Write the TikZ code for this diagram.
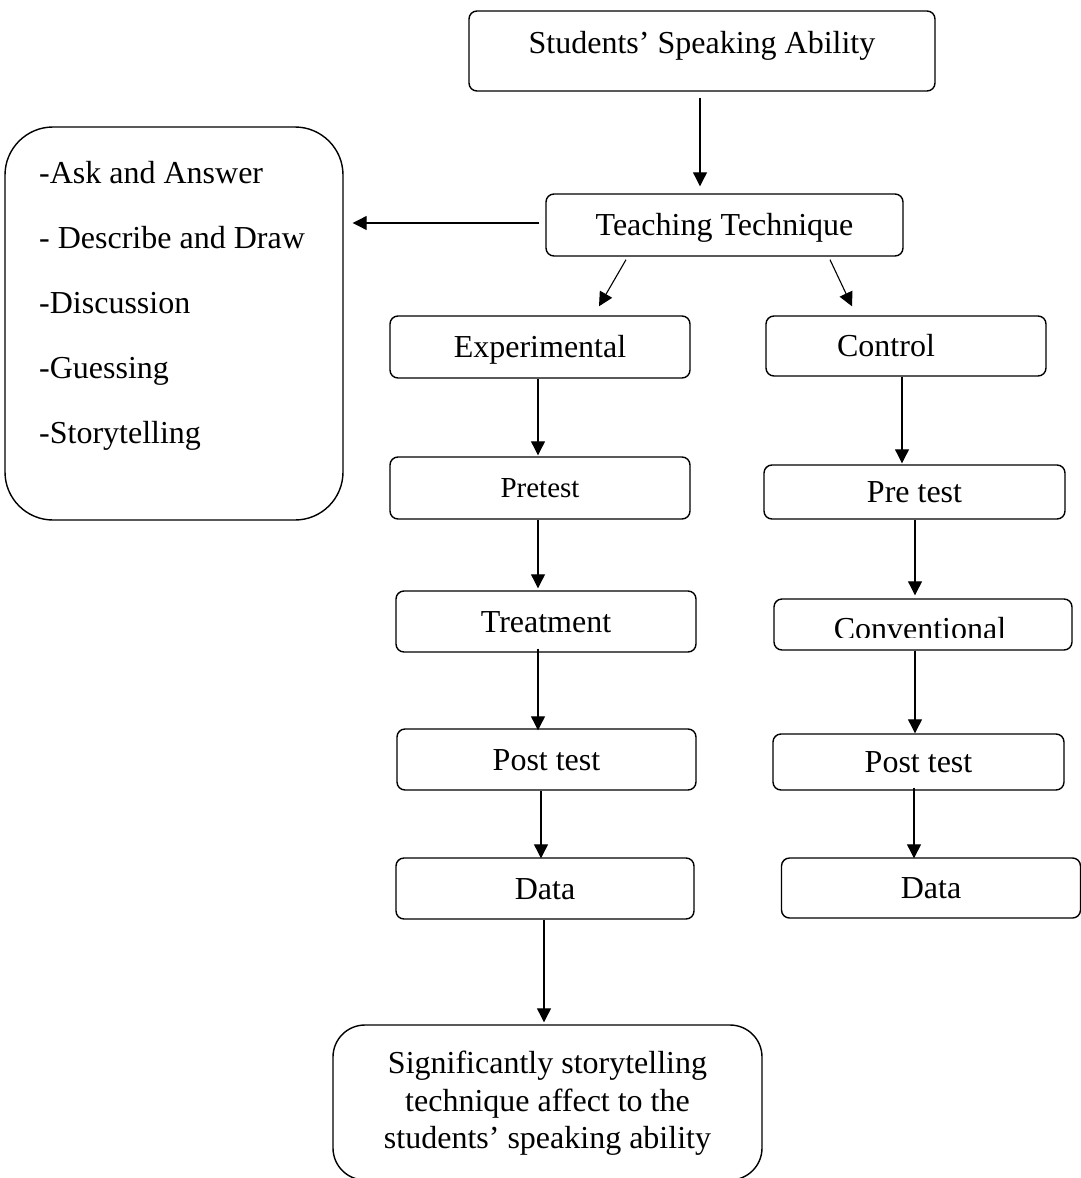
\documentclass[tikz,border=0pt]{standalone}
\usepackage{fontspec}
\setmainfont{Liberation Serif}
\usetikzlibrary{arrows.meta,calc}
\begin{document}
\begin{tikzpicture}[x=1pt,y=-1pt,
  box/.style={draw,line width=1.4pt,rounded corners=8pt,inner sep=0pt,
    font=\fontsize{32}{38}\selectfont,text height=21pt,text depth=0pt},
  bigbox/.style={draw,line width=1.4pt,inner sep=0pt},
  arr/.style={line width=1.1pt,-{Triangle[length=14pt,width=14pt]}},
  txt/.style={inner sep=0pt,font=\fontsize{32}{38}\selectfont}]
\useasboundingbox (0,0) rectangle (1081,1178);

% top
\node[box,minimum width=466pt,minimum height=80pt,text depth=17pt] (top) at (702,51) {Students’ Speaking Ability};
\node[box,minimum width=357pt,minimum height=62pt] (tt) at (724.5,225) {Teaching Technique};

% left box
\node[bigbox,rounded corners=48pt,minimum width=338pt,minimum height=393pt] (lb) at (174,323.5) {};
\node[txt,anchor=base west] (l1) at (39,183) {-Ask and Answer};
\node[txt,anchor=base west] (l2) at (39,248) {- Describe and Draw};
\node[txt,anchor=base west] (l3) at (39,313) {-Discussion};
\node[txt,anchor=base west] (l4) at (39,378) {-Guessing};
\node[txt,anchor=base west] (l5) at (39,443) {-Storytelling};

% experimental column
\node[box,minimum width=300pt,minimum height=62pt] (exp) at (540,347) {Experimental};
\node[box,minimum width=300pt,minimum height=62pt,font=\fontsize{29}{34}\selectfont,text height=19pt] (pre) at (540,488) {Pretest};
\node[box,minimum width=300pt,minimum height=61pt] (treat) at (546,621.5) {Treatment};
\node[box,minimum width=299pt,minimum height=61pt] (post1) at (546.5,759.5) {Post test};
\node[box,minimum width=298pt,minimum height=61pt] (data1) at (545,888.5) {Data};

% control column
\node[box,minimum width=280pt,minimum height=60pt] (ctl) at (906,346) {Control\hspace*{40pt}};
\node[box,minimum width=301pt,minimum height=54pt] (pre2) at (914.5,492) {Pre test};
\node[box,minimum width=298pt,minimum height=51pt] (conv) at (923,624.5) {};
\begin{scope}
  \clip (773,590) rectangle (1075,637.5);
  \node[txt,anchor=base] (convtext) at (920,639) {Conventional};
\end{scope}
\node[box,minimum width=291pt,minimum height=56pt] (post2) at (918.5,762) {Post test};
\node[box,minimum width=299pt,minimum height=60pt] (data2) at (931,888) {Data};

% final
\node[bigbox,rounded corners=32pt,minimum width=429pt,minimum height=155pt] (final) at (547.5,1102.5) {};
\node[txt,align=center,anchor=north,font=\fontsize{32}{37.5}\selectfont] (ftext) at (547.5,1051) {Significantly storytelling\\technique affect to the\\students’ speaking ability};

% connectors
\draw[arr] ($(top.south)+(-2,6)$) -- ($(tt.north)+(-24.5,-7)$);
\draw[arr] ($(tt.west)+(-6,-2)$) -- ($(tt.west -| lb.east)+(9,-2)$);
\draw[arr] ($(tt.south)+(-98.5,3)$) -- ($(exp.north)+(59,-9)$);
\draw[arr] ($(tt.south)+(105.5,3)$) -- ($(ctl.north)+(-54,-9)$);
\draw[arr] ($(exp.south)+(-2,0)$) -- ($(pre.north)+(-2,-1)$);
\draw[arr] ($(ctl.south)+(-4,0)$) -- ($(pre2.north)+(-12.5,-1)$);
\draw[arr] ($(pre.south)+(-2,0)$) -- ($(treat.north)+(-8,-2)$);
\draw[arr] ($(pre2.south)+(0.5,0)$) -- ($(conv.north)+(-8,-3)$);
\draw[arr] ($(treat.south)+(-8,-4)$) -- ($(post1.north)+(-8.5,2)$);
\draw[arr] ($(conv.south)+(-8,0)$) -- ($(post2.north)+(-3.5,0)$);
\draw[arr] ($(post1.south)+(-5.5,0)$) -- ($(data1.north)+(-4,1)$);
\draw[arr] ($(post2.south)+(-4.5,-3)$) -- ($(data2.north)+(-17,1)$);
\draw[arr] ($(data1.south)+(-1,0)$) -- ($(final.north)+(-3.5,-2)$);
\end{tikzpicture}
\end{document}
